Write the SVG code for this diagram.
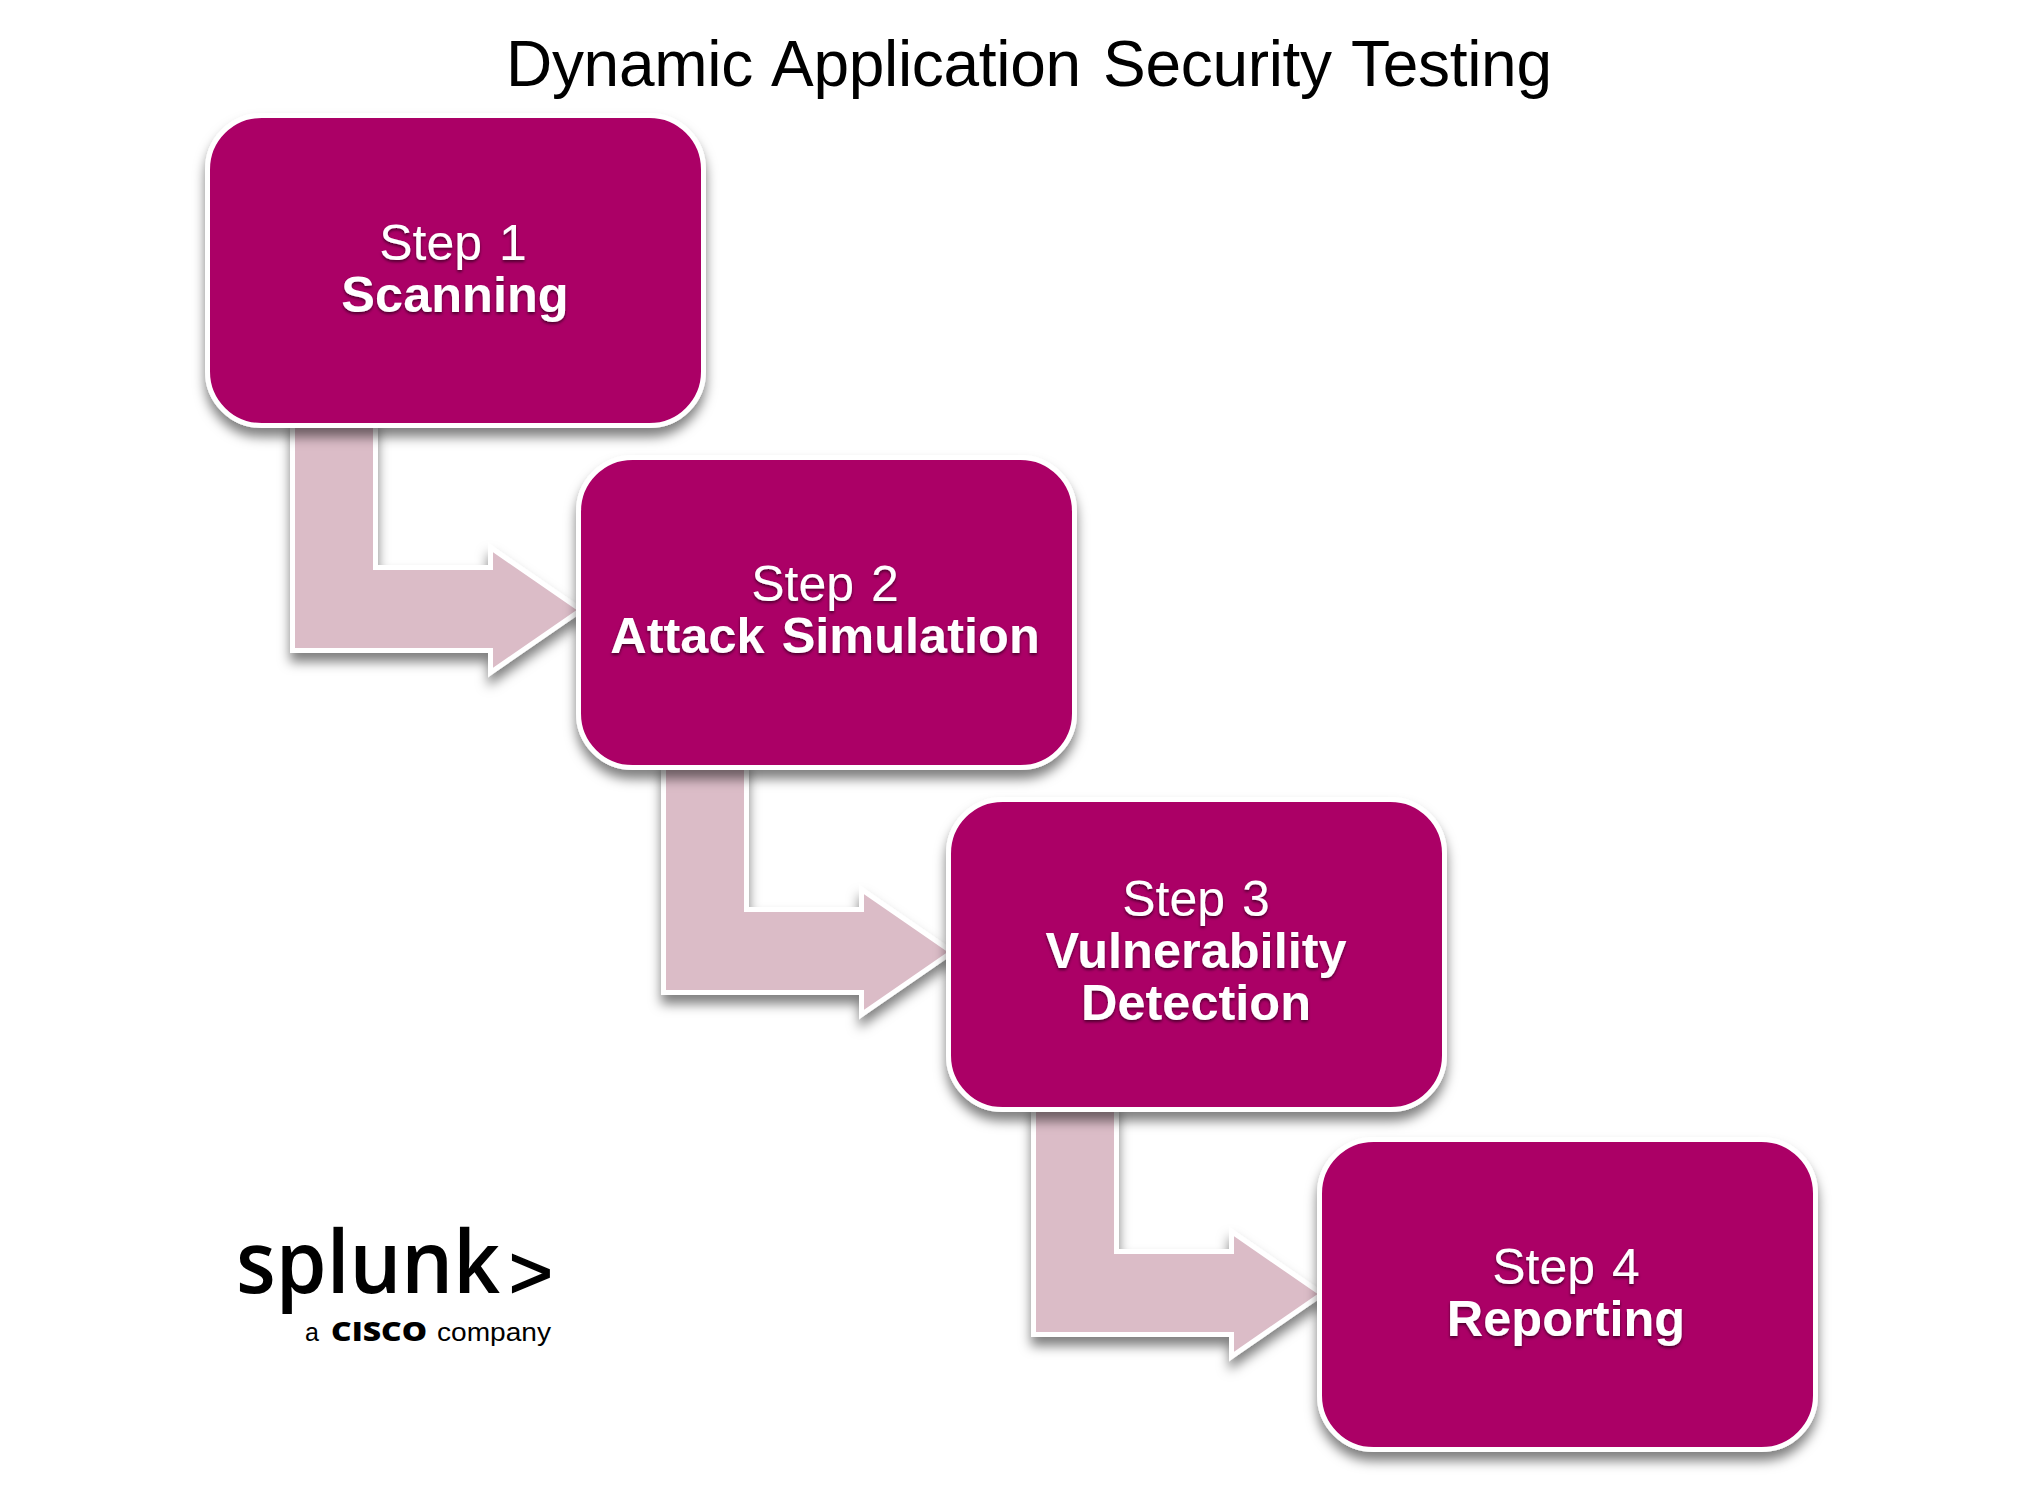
<svg xmlns="http://www.w3.org/2000/svg" width="2025" height="1489" viewBox="0 0 2025 1489">
  <style>
    text { font-family: "Liberation Sans", Arial, sans-serif; text-anchor: middle; }
    .title { font-size: 64px; fill: #000; text-anchor: start; letter-spacing: -0.3px; }
    .card { fill: #ab0066; stroke: #fff; stroke-width: 5; }
    .arrow { fill: #dbbcc7; stroke: #fff; stroke-width: 5; stroke-linejoin: miter; }
    .lift { filter: url(#cast); }
    .label { fill: #fff; font-size: 50px; word-spacing: 3px; filter: url(#textCast); }
    .label .strong { font-weight: 700; font-size: 50.5px; }
    .brand { font-family: "Open Sans", "Lato", sans-serif; fill: #000; text-anchor: start; }
  </style>
  <defs>
    <filter id="cast" x="-15%" y="-15%" width="130%" height="135%">
      <feDropShadow dx="0" dy="9" stdDeviation="6" flood-color="#000" flood-opacity="0.5"/>
    </filter>
    <filter id="textCast" x="-10%" y="-10%" width="120%" height="125%">
      <feDropShadow dx="0" dy="2" stdDeviation="1.6" flood-color="#000" flood-opacity="0.55"/>
    </filter>
    <polygon id="elbow" points="292.5,420 375.5,420 375.5,567.5 490.5,567.5 490.5,547.5 581,610 490.5,672.5 490.5,650.5 292.5,650.5"/>
    <rect id="cardShape" x="207.5" y="115.5" width="496" height="310" rx="54" ry="54"/>
  </defs>
  <rect width="2025" height="1489" fill="#fff"/>

  <text class="title" y="86"><tspan x="506">Dynamic</tspan> <tspan x="771">Application</tspan> <tspan x="1103">Security</tspan> <tspan x="1351">Testing</tspan></text>

  <g id="connectors">
    <use href="#elbow" class="arrow lift"/>
    <use href="#elbow" class="arrow lift" transform="translate(371 342)"/>
    <use href="#elbow" class="arrow lift" transform="translate(741 684)"/>
  </g>

  <g id="step1">
    <use href="#cardShape" class="card lift"/>
    <text class="label"><tspan x="453" y="260">Step 1</tspan><tspan class="strong" x="455" y="312">Scanning</tspan></text>
  </g>
  <g id="step2">
    <use href="#cardShape" class="card lift" transform="translate(371 342)"/>
    <text class="label"><tspan x="825" y="601">Step 2</tspan><tspan class="strong" x="825" y="653">Attack Simulation</tspan></text>
  </g>
  <g id="step3">
    <use href="#cardShape" class="card lift" transform="translate(741 684)"/>
    <text class="label"><tspan x="1196" y="916">Step 3</tspan><tspan class="strong" x="1196" y="968">Vulnerability</tspan><tspan class="strong" x="1196" y="1020">Detection</tspan></text>
  </g>
  <g id="step4">
    <use href="#cardShape" class="card lift" transform="translate(1112 1024)"/>
    <text class="label"><tspan x="1566" y="1284">Step 4</tspan><tspan class="strong" x="1566" y="1336">Reporting</tspan></text>
  </g>

  <g id="logo">
    <text class="brand" x="236" y="1293" font-size="86" font-weight="600" textLength="264" lengthAdjust="spacingAndGlyphs">splunk</text>
    <text class="brand" x="509" y="1298" font-size="75" style="font-family:'Liberation Sans',sans-serif" stroke="#000" stroke-width="1.5">&gt;</text>
    <text class="brand" x="305" y="1341" font-size="25" style="font-family:'Liberation Sans',sans-serif">a</text>
    <text class="brand" x="331" y="1341" font-size="27" font-weight="800" textLength="96" lengthAdjust="spacingAndGlyphs">CISCO</text>
    <text class="brand" x="437" y="1341" font-size="25" textLength="114" lengthAdjust="spacingAndGlyphs" style="font-family:'Liberation Sans',sans-serif">company</text>
  </g>
</svg>
